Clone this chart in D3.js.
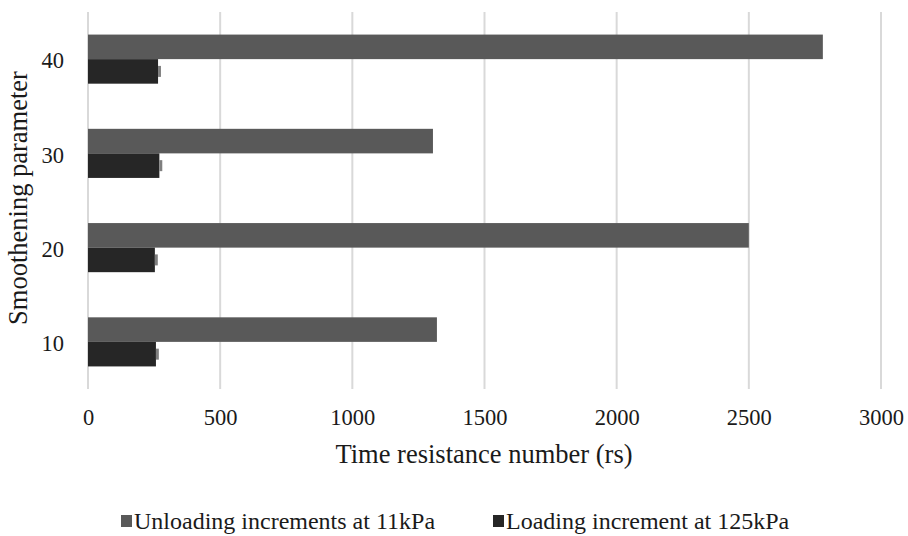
<!DOCTYPE html>
<html>
<head>
<meta charset="utf-8">
<script src="https://cdn.jsdelivr.net/npm/d3@7"></script>
<style>
  html, body { margin: 0; padding: 0; background: #fff; }
  svg { display: block; font-family: "Liberation Serif", "Times New Roman", serif; }
</style>
</head>
<body>
<svg id="chart" width="908" height="536"></svg>
<script>
const categories = ["40", "30", "20", "10"];
const seriesNames = ["Unloading increments at 11kPa", "Loading increment at 125kPa"];
const unloading = [2780, 1305, 2500, 1320];
const loading = [265, 270, 253, 257];
const loadingErr = [11, 11, 11, 11];
const xTicks = [0, 500, 1000, 1500, 2000, 2500, 3000];
const colors = ["#595959", "#262626"];

const svg = d3.select("#chart");
const mLeft = 88, mRight = 881, mTop = 12, mBottom = 389;
const textColor = "#1a1a1a";

const x = d3.scaleLinear().domain([0, 3000]).range([mLeft, mRight]);
const y = d3.scaleBand().domain(categories).range([mTop, mBottom]).paddingInner(0.479).paddingOuter(0.2395);
const ySub = d3.scaleBand().domain([0, 1]).range([0, y.bandwidth()]);

// gridlines
svg.append("g").selectAll("line").data(xTicks).join("line")
  .attr("x1", d => x(d)).attr("x2", d => x(d))
  .attr("y1", mTop).attr("y2", mBottom)
  .attr("stroke", "#d9d9d9").attr("stroke-width", 2);

// bars
const series = [unloading, loading];
series.forEach((vals, si) => {
  svg.append("g").selectAll("rect").data(categories).join("rect")
    .attr("x", x(0))
    .attr("y", (c) => y(c) + ySub(si))
    .attr("width", (c, i) => x(vals[i]) - x(0))
    .attr("height", ySub.bandwidth())
    .attr("fill", colors[si]);
});

// error bars for loading
svg.append("g").selectAll("rect").data(categories).join("rect")
  .attr("x", (c, i) => x(loading[i]))
  .attr("y", c => y(c) + ySub(1) + ySub.bandwidth() / 2 - 5.5)
  .attr("width", (c, i) => x(loading[i] + loadingErr[i]) - x(loading[i]))
  .attr("height", 11)
  .attr("fill", "#7f7f7f");

// x tick labels
const xAxis = d3.axisBottom(x).tickValues(xTicks).tickFormat(d3.format("d")).tickSize(0).tickPadding(0);
const gx = svg.append("g").attr("transform", `translate(0, ${mBottom + 36})`).call(xAxis);
gx.attr("font-family", null).attr("font-size", null);
gx.select(".domain").remove();
gx.selectAll("text").attr("font-size", 22.5).attr("fill", textColor).attr("dy", "0");

// y tick labels
const yAxis = d3.axisLeft(y).tickSize(0).tickPadding(0);
const gy = svg.append("g").attr("transform", `translate(64, 2)`).call(yAxis);
gy.attr("font-family", null).attr("font-size", null);
gy.select(".domain").remove();
gy.selectAll("text").attr("font-size", 22.5).attr("fill", textColor);

// axis titles
svg.append("text").attr("x", 484).attr("y", 463)
  .attr("text-anchor", "middle").attr("font-size", 26.5).attr("fill", textColor)
  .text("Time resistance number (rs)");
svg.append("text").attr("transform", `translate(27, 198) rotate(-90)`)
  .attr("text-anchor", "middle").attr("font-size", 26.5).attr("fill", textColor)
  .text("Smoothening parameter");

// legend
const legendX = [121, 493];
seriesNames.forEach((name, i) => {
  const g = svg.append("g").attr("transform", `translate(${legendX[i]}, 529)`);
  g.append("rect").attr("x", 0).attr("y", -14).attr("width", 11).attr("height", 12).attr("fill", colors[i]);
  g.append("text").attr("x", 13).attr("y", 0).attr("font-size", 24).attr("fill", textColor).text(name);
});
</script>
</body>
</html>
